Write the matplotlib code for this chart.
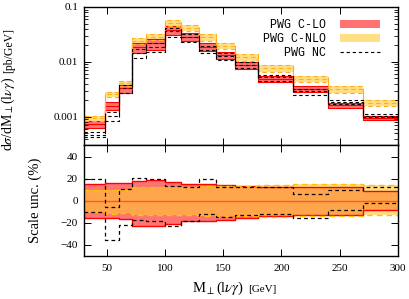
import matplotlib
matplotlib.use('Agg')
import matplotlib.pyplot as plt
from matplotlib.patches import Patch
from matplotlib.lines import Line2D
import numpy as np

# bin edges in M_perp [GeV]
edges = [30, 48, 60, 72, 84, 100, 114, 129, 144, 160, 180, 210, 240, 270, 300]

# central values, top panel [pb/GeV]
lo_c = [0.00073, 0.0016, 0.0033, 0.019, 0.0217, 0.0385, 0.029, 0.019, 0.0134, 0.0088, 0.0049, 0.0032, 0.00162, 0.00097]
nlo_c = [0.00094, 0.00262, 0.0041, 0.0239, 0.0284, 0.052, 0.0415, 0.0281, 0.0197, 0.0121, 0.0076, 0.0049, 0.00318, 0.00178]
nc_c = [0.000474, 0.00104, 0.00333, 0.0146, 0.0183, 0.036, 0.028, 0.0164, 0.0128, 0.0088, 0.0052, 0.0030, 0.00186, 0.00102]
nc_hi = [0.00053, 0.0012, 0.00372, 0.0173, 0.022, 0.0407, 0.0316, 0.0197, 0.0144, 0.0099, 0.00585, 0.00318, 0.00203, 0.00114]
nc_lo = [0.000428, 0.000844, 0.00276, 0.0119, 0.015, 0.0279, 0.0228, 0.0145, 0.0109, 0.0076, 0.00458, 0.00253, 0.00171, 0.00100]

# scale uncertainty in %, bottom panel
lo_up = [15, 16, 16.5, 18, 19, 17, 15.5, 15, 14, 13, 12, 12.6, 12, 8.4]
lo_dn = [-16, -16, -16.5, -22.6, -22.6, -21, -18.7, -18, -17, -15.6, -13.9, -12.6, -12.6, -8]
nlo_up = [10, 10, 10, 12, 12, 12, 12, 13, 13, 13, 14, 15, 15, 14]
nlo_dn = [-10, -12, -11, -13, -13, -13, -13, -14, -14, -14, -15, -14, -14, -13]
nc_up = [20, -6, 10.8, 21, 20, 13, 12.5, 20, 12.6, 12.6, 12.6, 6, 9.3, 12]
nc_dn = [-10.5, -35.5, -21.7, -17, -18, -23, -18.7, -12, -15, -13.2, -12, -15.6, -8.1, -2]

plt.rcParams['font.family'] = ['Liberation Serif', 'DejaVu Serif']
plt.rcParams['mathtext.fontset'] = 'stix'

RED = '#ff0000'
YEL = '#ffc832'
W, H = 409, 299


def step(v):
    v = np.asarray(v, dtype=float)
    return np.append(v, v[-1])


def two_part(x0, y0, big, small, size_big, size_small, rot):
    # draw a label then a smaller unit right after it
    t1 = fig.text(x0, y0, big, rotation=rot, rotation_mode='anchor', ha='left',
                  va='baseline', fontsize=size_big)
    fig.canvas.draw()
    bb = t1.get_window_extent()
    gap = 4
    if rot == 90:
        fig.text(x0, (bb.y1 + gap) / H, small, rotation=90, rotation_mode='anchor',
                 ha='left', va='baseline', fontsize=size_small)
    else:
        fig.text((bb.x1 + gap) / W, y0, small, ha='left', va='baseline', fontsize=size_small)


fig = plt.figure(figsize=(W / 100, H / 100), dpi=100)
ax = fig.add_axes([0.2044, 0.5134, 0.768, 0.4632])
rx = fig.add_axes([0.2044, 0.1438, 0.768, 0.3696], sharex=ax)

x = np.array(edges, dtype=float)
lo = np.array(lo_c)
nlo = np.array(nlo_c)

# top panel
ax.fill_between(x, step(lo * (1 + np.array(lo_dn) / 100)), step(lo * (1 + np.array(lo_up) / 100)),
                step='post', color=RED, alpha=0.55, lw=0)
for v in [lo * (1 + np.array(lo_dn) / 100), lo, lo * (1 + np.array(lo_up) / 100)]:
    ax.step(x, step(v), where='post', color=RED, lw=0.8)
ax.fill_between(x, step(nlo * (1 + np.array(nlo_dn) / 100)), step(nlo * (1 + np.array(nlo_up) / 100)),
                step='post', color=YEL, alpha=0.6, lw=0)
for v in [nlo * (1 + np.array(nlo_dn) / 100), nlo, nlo * (1 + np.array(nlo_up) / 100)]:
    ax.step(x, step(v), where='post', color='#ffb020', lw=0.8, ls=(0, (4, 3)))
for v in [nc_lo, nc_c, nc_hi]:
    ax.step(x, step(v), where='post', color='black', lw=0.8, ls=(0, (3, 2.5)))

ax.set_yscale('log')
ax.set_ylim(3e-4, 0.1)
ax.set_xlim(30, 300)
ax.set_yticks([0.001, 0.01, 0.1])
ax.set_yticklabels(['0.001', '0.01', '0.1'])
ax.tick_params(labelbottom=False)

# bottom panel
rx.fill_between(x, step(lo_dn), step(lo_up), step='post', color=RED, alpha=0.55, lw=0)
rx.step(x, step(lo_up), where='post', color=RED, lw=1.0)
rx.step(x, step(lo_dn), where='post', color=RED, lw=1.0)
rx.fill_between(x, step(nlo_dn), step(nlo_up), step='post', color=YEL, alpha=0.6, lw=0)
rx.step(x, step(nlo_up), where='post', color='#ffc000', lw=1.0, ls=(0, (4, 3)))
rx.step(x, step(nlo_dn), where='post', color='#ffc000', lw=1.0, ls=(0, (4, 3)))
rx.axhline(0, color='#ff5a20', lw=1.0)
rx.step(x, step(nc_up), where='post', color='black', lw=0.9, ls=(0, (3, 2.5)))
rx.step(x, step(nc_dn), where='post', color='black', lw=0.9, ls=(0, (3, 2.5)))
rx.set_ylim(-50, 50)
rx.set_yticks([-40, -20, 0, 20, 40])
rx.set_xticks([50, 100, 150, 200, 250, 300])

for a in (ax, rx):
    a.tick_params(which='both', direction='in', top=True, right=True, labelsize=8, pad=4)
    a.tick_params(which='major', length=5, width=0.7)
    a.tick_params(which='minor', length=3, width=0.6)
    for s in a.spines.values():
        s.set_linewidth(1.0)
rx.tick_params(axis='x', pad=6)

# axis titles
fig.text(35 / W, 1 - 200 / H, 'Scale unc. (%)', rotation=90, ha='center', va='center', fontsize=10.5)
two_part(12 / W, 1 - 151 / H, r'd$\sigma$/dM$_\perp$(l$\nu\gamma$)', '[pb/GeV]', 10, 8.5, 90)
two_part(192 / W, 1 - 292 / H, r'M$_\perp$(l$\nu\gamma$)', '[GeV]', 10.5, 8, 0)

handles = [Patch(facecolor=RED, alpha=0.55, lw=0),
           Patch(facecolor=YEL, alpha=0.6, lw=0),
           Line2D([], [], color='black', lw=0.8, ls=(0, (3, 2.5)))]
ax.legend(handles, ['PWG C-LO', 'PWG C-NLO', 'PWG NC'], loc='upper right',
          bbox_to_anchor=(0.96, 0.945), borderaxespad=0, frameon=False, markerfirst=False,
          handlelength=3.5, handletextpad=1.2, labelspacing=0.15,
          prop={'family': 'Liberation Mono', 'size': 8.4})

fig.savefig('out.png', dpi=100)
